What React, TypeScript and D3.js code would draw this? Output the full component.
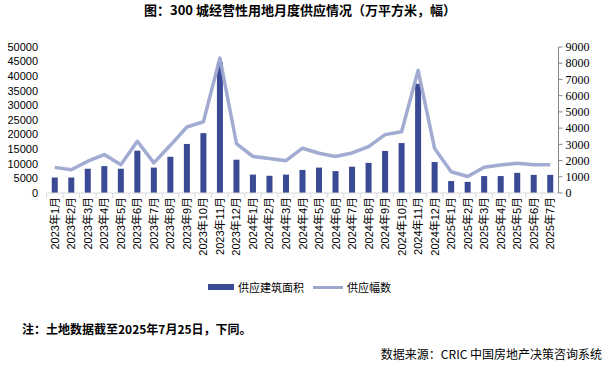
import * as d3 from "d3";

const months = [
  "2023年1月", "2023年2月", "2023年3月", "2023年4月", "2023年5月", "2023年6月",
  "2023年7月", "2023年8月", "2023年9月", "2023年10月", "2023年11月", "2023年12月",
  "2024年1月", "2024年2月", "2024年3月", "2024年4月", "2024年5月", "2024年6月",
  "2024年7月", "2024年8月", "2024年9月", "2024年10月", "2024年11月", "2024年12月",
  "2025年1月", "2025年2月", "2025年3月", "2025年4月", "2025年5月", "2025年6月",
  "2025年7月",
];

// 供应建筑面积（万平方米）
const supplyArea = [
  5300, 5300, 8300, 9200, 8300, 14500, 8700, 12400, 16800, 20500, 44800, 11400,
  6300, 5900, 6300, 7900, 8700, 7500, 9000, 10300, 14400, 17100, 37400, 10600,
  4100, 3800, 5800, 5800, 6900, 6200, 6200,
];

// 供应幅数
const supplyCount = [
  1580, 1430, 1960, 2370, 1740, 3190, 1860, 2940, 4070, 4390, 8320, 3050,
  2250, 2130, 1990, 2760, 2450, 2250, 2470, 2860, 3600, 3780, 7560, 2740,
  1310, 1020, 1590, 1720, 1840, 1740, 1740,
];

const leftTicks = [0, 5000, 10000, 15000, 20000, 25000, 30000, 35000, 40000, 45000, 50000];
const rightTicks = [0, 1000, 2000, 3000, 4000, 5000, 6000, 7000, 8000, 9000];

const W = 611;
const H = 371;
const plotLeft = 46.5;
const plotRight = 558.5;
const plotTop = 47;
const plotBottom = 193;

const barColor = "#3B4A94";
const lineColor = "#9DA6CF";
const cjk = "'Liberation Sans', 'Noto Sans CJK SC', sans-serif";

export default function App() {
  const x = d3.scaleBand<string>().domain(months).range([plotLeft, plotRight]).padding(0);
  const bw = x.bandwidth();
  const yL = d3.scaleLinear().domain([0, 50000]).range([plotBottom, plotTop]);
  const yR = d3.scaleLinear().domain([0, 9000]).range([plotBottom, plotTop]);

  const line = d3
    .line<number>()
    .x((_, i) => (x(months[i]) as number) + bw / 2)
    .y((d) => yR(d));

  const barW = 6;

  return (
    <svg
      width={W}
      height={H}
      style={{ position: "absolute", left: 0, top: 0, background: "#fff" }}
    >
      <text
        x={300}
        y={15}
        textAnchor="middle"
        fontFamily="'Noto Sans CJK SC', sans-serif"
        fontWeight="bold"
        fontSize={13}
        fill="#000"
      >
        图：300 城经营性用地月度供应情况（万平方米，幅）
      </text>

      {/* left axis labels */}
      {leftTicks.map((t) => (
        <text
          key={"l" + t}
          x={38}
          y={yL(t)}
          dy="0.35em"
          textAnchor="end"
          fontFamily="'Liberation Sans', sans-serif"
          fontSize={11}
          fill="#000"
        >
          {t}
        </text>
      ))}

      {/* bars */}
      {supplyArea.map((v, i) => (
        <rect
          key={"b" + i}
          x={(x(months[i]) as number) + bw / 2 - barW / 2}
          y={yL(v)}
          width={barW}
          height={yL(0) - yL(v)}
          fill={barColor}
        />
      ))}

      {/* x axis */}
      <line x1={plotLeft} x2={plotRight} y1={plotBottom} y2={plotBottom} stroke="#D9D9D9" strokeWidth={1} />
      {months.map((m) => (
        <line
          key={"t" + m}
          x1={x(m) as number}
          x2={x(m) as number}
          y1={plotBottom}
          y2={plotBottom + 5}
          stroke="#D9D9D9"
        />
      ))}

      {/* line series */}
      <path
        d={line(supplyCount) ?? ""}
        fill="none"
        stroke={lineColor}
        strokeWidth={3.5}
        strokeLinejoin="round"
        opacity={0.95}
      />

      {/* right axis */}
      <line x1={plotRight} x2={plotRight} y1={plotTop} y2={plotBottom} stroke="#868686" />
      {rightTicks.map((t) => (
        <g key={"r" + t}>
          <line x1={plotRight} x2={plotRight + 4} y1={yR(t)} y2={yR(t)} stroke="#868686" />
          <text
            x={plotRight + 7}
            y={yR(t)}
            dy="0.35em"
            fontFamily="'Liberation Serif', serif"
            fontSize={12}
            fill="#000"
          >
            {t}
          </text>
        </g>
      ))}

      {/* x labels */}
      {months.map((m) => {
        const cx = (x(m) as number) + bw / 2;
        return (
          <text
            key={"x" + m}
            transform={`translate(${cx + 4},197) rotate(-90)`}
            textAnchor="end"
            fontFamily={cjk}
            fontSize={11}
            fill="#000"
          >
            {m}
          </text>
        );
      })}

      {/* legend */}
      <rect x={208} y={284} width={26} height={6} fill={barColor} />
      <text x={238} y={291.5} fontFamily={cjk} fontSize={11} fill="#000">
        供应建筑面积
      </text>
      <line x1={313} x2={343} y1={287.5} y2={287.5} stroke={lineColor} strokeWidth={3} />
      <text x={347} y={291.5} fontFamily={cjk} fontSize={11} fill="#000">
        供应幅数
      </text>

      {/* notes */}
      <text
        x={22}
        y={334}
        fontFamily="'Noto Sans CJK SC', sans-serif"
        fontWeight="bold"
        fontSize={12}
        fill="#000"
      >
        注：土地数据截至2025年7月25日，下同。
      </text>
      <text
        x={602}
        y={359}
        textAnchor="end"
        fontFamily="'Noto Sans CJK SC', sans-serif"
        fontSize={12}
        fill="#000"
      >
        数据来源：CRIC 中国房地产决策咨询系统
      </text>
    </svg>
  );
}
